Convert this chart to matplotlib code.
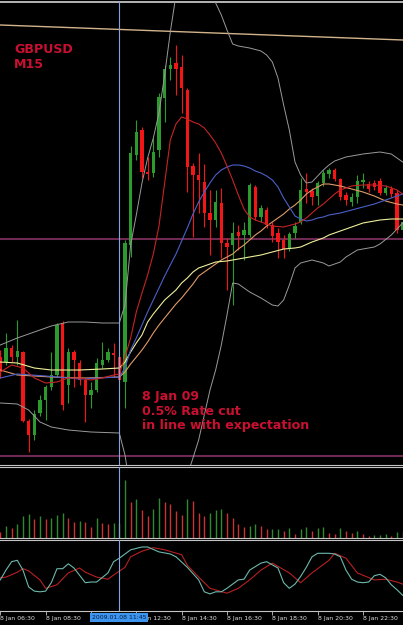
import numpy as np
import matplotlib.pyplot as plt
from matplotlib.transforms import blended_transform_factory

# GBPUSD M15, 8 Jan 2009 -- first visible bar is 06:30
opens = [1.5243, 1.5238, 1.5252, 1.5243, 1.5248, 1.5179, 1.5165, 1.5187, 1.5200, 1.5213,
         1.5225, 1.5277, 1.5215, 1.5248, 1.5237, 1.5220, 1.5205, 1.5210, 1.5235, 1.5240,
         1.5247, 1.5243, 1.5218, 1.5355, 1.5445, 1.5470, 1.5428, 1.5427, 1.5450, 1.5502,
         1.5531, 1.5537, 1.5533, 1.5510, 1.5434, 1.5425, 1.5418, 1.5387, 1.5380, 1.5397,
         1.5357, 1.5355, 1.5368, 1.5365, 1.5365, 1.5413, 1.5383, 1.5390, 1.5375, 1.5367,
         1.5360, 1.5351, 1.5367, 1.5378, 1.5411, 1.5409, 1.5404, 1.5417, 1.5426, 1.5430,
         1.5421, 1.5405, 1.5398, 1.5403, 1.5418, 1.5416, 1.5417, 1.5419, 1.5407, 1.5411,
         1.5407, 1.5370]
highs = [1.5250, 1.5267, 1.5255, 1.5280, 1.5249, 1.5181, 1.5190, 1.5205, 1.5215, 1.5248,
         1.5277, 1.5279, 1.5252, 1.5250, 1.5240, 1.5222, 1.5218, 1.5242, 1.5258, 1.5252,
         1.5257, 1.5245, 1.5360, 1.5454, 1.5480, 1.5473, 1.5443, 1.5462, 1.5507, 1.5535,
         1.5543, 1.5555, 1.5545, 1.5512, 1.5437, 1.5447, 1.5436, 1.5410, 1.5410, 1.5412,
         1.5362, 1.5378, 1.5375, 1.5378, 1.5417, 1.5415, 1.5395, 1.5393, 1.5378, 1.5372,
         1.5365, 1.5368, 1.5378, 1.5422, 1.5427, 1.5412, 1.5419, 1.5430, 1.5432, 1.5432,
         1.5422, 1.5408, 1.5407, 1.5425, 1.5427, 1.5419, 1.5420, 1.5422, 1.5415, 1.5414,
         1.5410, 1.5382]
lows = [1.5222, 1.5235, 1.5238, 1.5235, 1.5178, 1.5148, 1.5160, 1.5184, 1.5180, 1.5210,
        1.5223, 1.5190, 1.5197, 1.5213, 1.5215, 1.5178, 1.5192, 1.5208, 1.5232, 1.5238,
        1.5223, 1.5217, 1.5192, 1.5343, 1.5440, 1.5422, 1.5420, 1.5423, 1.5443, 1.5478,
        1.5520, 1.5505, 1.5487, 1.5408, 1.5363, 1.5387, 1.5373, 1.5345, 1.5373, 1.5342,
        1.5310, 1.5295, 1.5350, 1.5340, 1.5363, 1.5380, 1.5378, 1.5372, 1.5358, 1.5342,
        1.5342, 1.5349, 1.5362, 1.5376, 1.5397, 1.5395, 1.5395, 1.5414, 1.5422, 1.5419,
        1.5400, 1.5395, 1.5394, 1.5397, 1.5412, 1.5408, 1.5410, 1.5405, 1.5405, 1.5403,
        1.5367, 1.5367]
closes = [1.5228, 1.5252, 1.5243, 1.5249, 1.5179, 1.5165, 1.5186, 1.5200, 1.5213, 1.5225,
          1.5275, 1.5195, 1.5248, 1.5240, 1.5220, 1.5205, 1.5210, 1.5237, 1.5240, 1.5248,
          1.5245, 1.5220, 1.5357, 1.5447, 1.5468, 1.5428, 1.5426, 1.5448, 1.5503, 1.5531,
          1.5535, 1.5531, 1.5512, 1.5433, 1.5425, 1.5420, 1.5387, 1.5380, 1.5398, 1.5357,
          1.5353, 1.5367, 1.5364, 1.5370, 1.5415, 1.5383, 1.5392, 1.5375, 1.5364, 1.5358,
          1.5351, 1.5366, 1.5374, 1.5410, 1.5408, 1.5403, 1.5417, 1.5427, 1.5430, 1.5421,
          1.5403, 1.5400, 1.5403, 1.5419, 1.5420, 1.5411, 1.5413, 1.5407, 1.5412, 1.5406,
          1.5370, 1.5378]
volumes = [60, 117, 93, 137, 217, 237, 183, 217, 183, 200,
           227, 243, 200, 160, 167, 160, 110, 200, 143, 133,
           143, 150, 577, 360, 387, 277, 220, 287, 400, 360,
           333, 267, 227, 387, 367, 243, 220, 250, 280, 287,
           243, 200, 133, 103, 117, 133, 117, 83, 87, 90,
           67, 93, 33, 83, 103, 70, 100, 110, 43, 37,
           93, 67, 43, 67, 37, 17, 27, 30, 33, 17,
           53, 60]

bb_upper_bars = [0, 3, 6, 9, 12, 15, 18, 21, 22, 23, 24, 25, 26, 27, 28, 29, 30, 31, 32, 33,
                 34, 35, 36, 37, 38, 39, 40, 41, 42, 44, 46, 47, 48, 49, 50, 51, 52, 53, 54,
                 55, 56, 57, 58, 59, 61, 64, 67, 69, 71]
bb_upper = [1.5255, 1.5262, 1.5268, 1.5274, 1.5278, 1.5278, 1.5277, 1.5277, 1.5295, 1.5355,
            1.5385, 1.5417, 1.5442, 1.5462, 1.5487, 1.5525, 1.5568, 1.5605, 1.5625, 1.5638,
            1.5640, 1.5632, 1.5620, 1.5608, 1.5597, 1.5585, 1.5570, 1.5556, 1.5554, 1.5552,
            1.5549, 1.5545, 1.5538, 1.5522, 1.5495, 1.5470, 1.5438, 1.5425, 1.5417, 1.5418,
            1.5424, 1.5430, 1.5435, 1.5439, 1.5443, 1.5446, 1.5448, 1.5446, 1.5438]
bb_lower_bars = [0, 3, 5, 7, 9, 12, 16, 21, 22, 23, 24, 25, 26, 27, 28, 29, 30, 31, 32, 33,
                 34, 35, 36, 37, 38, 39, 40, 41, 42, 43, 44, 46, 48, 49, 50, 51, 52, 53, 55,
                 57, 58, 60, 61, 63, 66, 67, 69, 71]
bb_lower = [1.5197, 1.5196, 1.5190, 1.5178, 1.5173, 1.5170, 1.5168, 1.5167, 1.5145, 1.5110,
            1.5090, 1.5070, 1.5050, 1.5035, 1.5022, 1.5015, 1.5012, 1.5018, 1.5060, 1.5125,
            1.5142, 1.5160, 1.5185, 1.5210, 1.5230, 1.5255, 1.5285, 1.5317, 1.5316, 1.5312,
            1.5308, 1.5302, 1.5295, 1.5294, 1.5300, 1.5315, 1.5332, 1.5337, 1.5340, 1.5337,
            1.5334, 1.5338, 1.5343, 1.5350, 1.5353, 1.5356, 1.5365, 1.5377]
ma_red_bars = [0, 2, 4, 6, 8, 10, 12, 14, 16, 18, 20, 21, 22, 23, 24, 25, 26, 27, 28, 29,
               30, 31, 32, 33, 34, 35, 36, 37, 38, 39, 40, 41, 42, 43, 44, 45, 46, 48, 50,
               52, 53, 54, 55, 56, 57, 58, 59, 60, 62, 64, 66, 68, 69, 70, 71]
ma_red = [1.5228, 1.5235, 1.5232, 1.5222, 1.5217, 1.5218, 1.5222, 1.5222, 1.5220, 1.5222,
          1.5225, 1.5226, 1.5243, 1.5262, 1.5288, 1.5307, 1.5325, 1.5346, 1.5374, 1.5417,
          1.5460, 1.5476, 1.5483, 1.5481, 1.5478, 1.5476, 1.5472, 1.5465, 1.5457, 1.5447,
          1.5434, 1.5420, 1.5405, 1.5391, 1.5383, 1.5380, 1.5378, 1.5374, 1.5373, 1.5376,
          1.5378, 1.5382, 1.5387, 1.5392, 1.5396, 1.5401, 1.5406, 1.5410, 1.5414, 1.5415,
          1.5415, 1.5414, 1.5412, 1.5410, 1.5406]
ma_blue_bars = [0, 3, 8, 14, 21] + list(range(22, 59)) + [60, 62, 64, 66, 68, 70, 71]
ma_blue = [1.5222, 1.5226, 1.5224, 1.5221, 1.5223,
           1.5232, 1.5250, 1.5262, 1.5275, 1.5288, 1.5300, 1.5312, 1.5324, 1.5335, 1.5346,
           1.5359, 1.5372, 1.5386, 1.5398, 1.5408, 1.5417, 1.5425, 1.5430, 1.5433, 1.5435,
           1.5435, 1.5434, 1.5432, 1.5429, 1.5427, 1.5424, 1.5420, 1.5413, 1.5402, 1.5393,
           1.5384, 1.5381, 1.5379, 1.5380, 1.5382, 1.5383, 1.5385,
           1.5387, 1.5390, 1.5393, 1.5396, 1.5400, 1.5404, 1.5406]
ma_yellow_bars = [0, 3, 6, 9, 14, 18, 21] + list(range(22, 39)) + \
                 [40, 42, 44, 46, 48, 50, 52, 53, 55, 57, 58, 60, 61, 63, 64, 66, 67, 69, 71]
ma_yellow = [1.5238, 1.5237, 1.5232, 1.5230, 1.5230, 1.5231, 1.5232,
             1.5238, 1.5248, 1.5257, 1.5265, 1.5278, 1.5286, 1.5293, 1.5300, 1.5305, 1.5310,
             1.5317, 1.5322, 1.5328, 1.5332, 1.5334, 1.5336, 1.5338,
             1.5339, 1.5341, 1.5343, 1.5345, 1.5348, 1.5351, 1.5352, 1.5353, 1.5358, 1.5362,
             1.5365, 1.5369, 1.5371, 1.5375, 1.5377, 1.5379, 1.5380, 1.5381, 1.5381]
ma_orange_bars = [0, 3, 9, 15, 21] + list(range(22, 59)) + [60, 62, 64, 66, 68, 70, 71]
ma_orange = [1.5230, 1.5225, 1.5223, 1.5222, 1.5223,
             1.5228, 1.5236, 1.5243, 1.5250, 1.5258, 1.5267, 1.5275, 1.5282, 1.5289, 1.5296,
             1.5302, 1.5309, 1.5316, 1.5324, 1.5328, 1.5332, 1.5336, 1.5340, 1.5343, 1.5346,
             1.5351, 1.5355, 1.5360, 1.5365, 1.5369, 1.5374, 1.5378, 1.5382, 1.5386, 1.5391,
             1.5395, 1.5400, 1.5406, 1.5410, 1.5413, 1.5416, 1.5416,
             1.5414, 1.5411, 1.5408, 1.5404, 1.5399, 1.5396, 1.5395]

# stochastic %K (teal) and %D (red)
stoch_k_bars = list(range(0, 14)) + [15, 16, 17, 19, 20, 21] + \
               [23, 25, 26, 28, 30, 31, 33, 35, 36, 37, 38, 39, 40, 42, 43, 44, 46, 47, 49] + \
               list(range(50, 72))
stoch_k = [43, 57, 69, 71, 57, 33, 27, 26, 27, 39, 59, 59, 66, 60,
           39, 40, 40, 53, 69, 74,
           86, 90, 90, 83, 80, 76, 61, 43, 26, 23, 26, 26, 31, 43, 44, 57, 67, 69, 60,
           39, 31, 37, 48, 61, 76, 81, 81, 81, 80, 76, 57, 44, 40, 39, 40, 49, 51, 46, 36,
           29, 21]
stoch_d_bars = [0, 1, 3, 4, 5, 7, 8, 10, 12, 14, 15, 17, 19, 20, 22, 23, 25, 27, 29, 32,
                33, 35, 37, 40, 42, 44, 46, 48, 51, 53, 55, 58, 59, 61, 63, 66, 68, 70, 71]
stoch_d = [46, 47, 54, 59, 56, 43, 31, 36, 53, 60, 54, 47, 44, 50, 61, 76, 84, 89, 86, 79,
           64, 47, 31, 24, 31, 43, 57, 67, 53, 39, 53, 71, 81, 74, 53, 43, 44, 40, 37]

# chart objects
trend_bars = [0, 71]
trend_prices = [1.5575, 1.5560]
levels = [1.5361, 1.5144]
cross_bar = 21
cross_label = '2009.01.08 11:45'
tick_bars = [0, 8, 16, 24, 32, 40, 48, 56, 64]
# the 10:30 label sits under the crosshair date box, so it is left blank
tick_labels = ['8 Jan 06:30', '8 Jan 08:30', '', '8 Jan 12:30', '8 Jan 14:30',
               '8 Jan 16:30', '8 Jan 18:30', '8 Jan 20:30', '8 Jan 22:30']

x = np.arange(len(opens))
o, h, l, c = (np.array(v) for v in (opens, highs, lows, closes))
bull = c >= o
candle_col = np.where(bull, '#2d9a2d', '#f21616')

fig = plt.figure(figsize=(4.03, 6.25), dpi=100, facecolor='black')
ax = fig.add_axes([0, 0.2560, 1, 0.7408])
ax_vol = fig.add_axes([0, 0.1397, 1, 0.1131])
ax_sto = fig.add_axes([0, 0.0224, 1, 0.1144])

for a in (ax, ax_vol, ax_sto):
    a.set_facecolor('black')
    a.set_xlim(-0.053, 71.06)
    a.set_yticks([])
    a.spines['left'].set_visible(False)
    a.spines['right'].set_visible(False)
    for s in ('top', 'bottom'):
        a.spines[s].set_color('#c4c4c4')
        a.spines[s].set_linewidth(0.8)
    a.axvline(cross_bar, color='#86a4dc', lw=0.8, zorder=6)
ax.spines['top'].set_linewidth(1.3)
ax.set_xticks([])
ax_vol.set_xticks([])

# main chart
ax.set_ylim(1.5135, 1.5598)
ax.axline((trend_bars[0], trend_prices[0]), (trend_bars[1], trend_prices[1]),
          color='#d2b48c', lw=1.0, zorder=2)
for lv in levels:
    ax.axhline(lv, color='#6e2a52', lw=1.5, zorder=2)
ax.vlines(x, l, h, colors=candle_col, lw=0.8, zorder=3)
ax.bar(x, np.maximum(np.abs(c - o), 0.00008), bottom=np.minimum(o, c), width=0.62,
       color=candle_col, linewidth=0, zorder=4)
ax.plot(bb_upper_bars, bb_upper, color='#9a9a9a', lw=0.7, zorder=5)
ax.plot(bb_lower_bars, bb_lower, color='#9a9a9a', lw=0.7, zorder=5)
ax.plot(ma_orange_bars, ma_orange, color='#e09a68', lw=0.8, zorder=5)
ax.plot(ma_yellow_bars, ma_yellow, color='#eeee9a', lw=0.8, zorder=5)
ax.plot(ma_blue_bars, ma_blue, color='#4a60c8', lw=0.8, zorder=5)
ax.plot(ma_red_bars, ma_red, color='#c42424', lw=0.8, zorder=5)

txt = dict(fontsize=9.1, fontweight='bold', color='#c81030', ha='left', va='baseline',
           transform=ax.transAxes, zorder=7)
ax.text(0.0347, 0.8898, 'GBPUSD', **txt)
ax.text(0.0347, 0.8575, 'M15', **txt)
ax.text(0.3524, 0.1404, '8 Jan 09', **txt)
ax.text(0.3524, 0.1080, '0.5% Rate cut', **txt)
ax.text(0.3524, 0.0778, 'in line with expectation', **txt)

# volumes, green when up on the previous bar
vol = np.array(volumes)
vol_up = np.concatenate([[False], vol[1:] > vol[:-1]])
ax_vol.vlines(x, 0, vol, colors=np.where(vol_up, '#2f8a2f', '#c83434'), lw=1.0)
ax_vol.set_ylim(0, 707)

# stochastic
ax_sto.plot(stoch_d_bars, stoch_d, color='#b82020', lw=0.8, zorder=4)
ax_sto.plot(stoch_k_bars, stoch_k, color='#6cb8ac', lw=0.8, zorder=5)
ax_sto.set_ylim(-1.4, 100.7)
ax_sto.set_xticks(tick_bars)
ax_sto.set_xticklabels(tick_labels, fontsize=4.4, color='#e0e0e0', ha='left')
ax_sto.tick_params(axis='x', length=3, width=0.6, color='#c4c4c4', pad=0.6)
ax_sto.text(cross_bar, -0.09, cross_label, fontsize=4.4, color='#0a1a3a',
            ha='center', va='center', clip_on=False, zorder=10,
            transform=blended_transform_factory(ax_sto.transData, ax_sto.transAxes),
            bbox=dict(boxstyle='square,pad=0.3', fc='#3c96f0', ec='none'))

fig.savefig('out.png', dpi=100, facecolor='black')
